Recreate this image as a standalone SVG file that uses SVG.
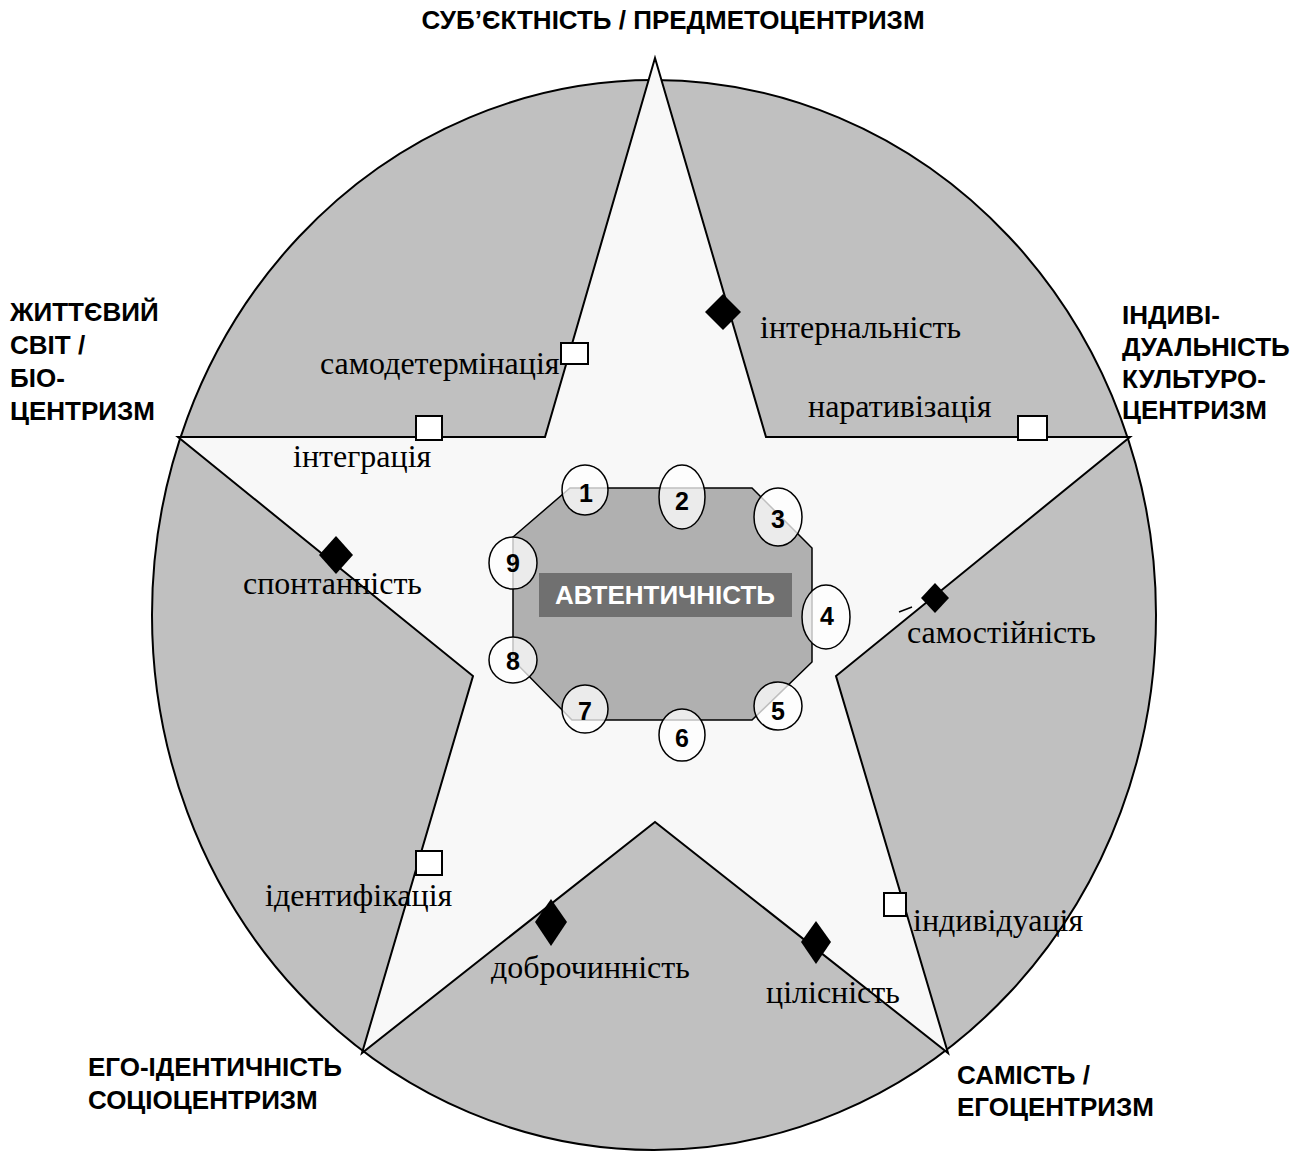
<svg xmlns="http://www.w3.org/2000/svg" width="1304" height="1157" viewBox="0 0 1304 1157">
<style>
.hdr{font-family:"Liberation Sans",Arial,sans-serif;font-weight:bold;font-size:26px;fill:#000}
.lbl{font-family:"Liberation Serif","Times New Roman",serif;font-size:32px;fill:#000}
.num{font-family:"Liberation Sans",Arial,sans-serif;font-weight:bold;font-size:25px;fill:#000;text-anchor:middle}
.circ{fill:#ffffff;fill-opacity:0.75;stroke:#000;stroke-width:1.5}
.sq{fill:#fff;stroke:#000;stroke-width:2}
.dm{fill:#000}
</style>
<rect width="1304" height="1157" fill="#fff"/>
<g id="background">
<ellipse cx="654" cy="615" rx="502" ry="535" fill="#c0c0c0" stroke="#000" stroke-width="2"/>
</g>
<g id="star">
<polygon points="655,58 766,437 1130,437 836,676 948,1053 655,822 362,1053 473,676 178,437 545,437" fill="#f8f8f8" stroke="#000" stroke-width="2" stroke-linejoin="miter"/>
</g>
<g id="core">
<polygon points="570,488 752,488 812,548 812,662 752,720 572,720 513,660 513,537" fill="#b0b0b0" stroke="#000" stroke-width="1.5"/>
<rect x="539" y="573" width="253" height="44" fill="#707070"/>
<text x="665" y="604" text-anchor="middle" font-family="Liberation Sans, Arial, sans-serif" font-weight="bold" font-size="26" fill="#fff">АВТЕНТИЧНІСТЬ</text>
</g>
<g id="circles">
<g id="c1"><ellipse class="circ" cx="585" cy="490" rx="23" ry="25"/><text class="num" x="586" y="502">1</text></g>
<g id="c2"><ellipse class="circ" cx="682" cy="497" rx="23" ry="32"/><text class="num" x="682" y="510">2</text></g>
<g id="c3"><ellipse class="circ" cx="778" cy="517" rx="24" ry="29"/><text class="num" x="778" y="528">3</text></g>
<g id="c4"><ellipse class="circ" cx="826" cy="617" rx="24" ry="32"/><text class="num" x="827" y="625">4</text></g>
<g id="c5"><ellipse class="circ" cx="778" cy="706" rx="24" ry="24"/><text class="num" x="778" y="720">5</text></g>
<g id="c6"><ellipse class="circ" cx="682" cy="735" rx="23" ry="26"/><text class="num" x="682" y="747">6</text></g>
<g id="c7"><ellipse class="circ" cx="585" cy="709" rx="23" ry="24"/><text class="num" x="585" y="720">7</text></g>
<g id="c8"><ellipse class="circ" cx="513" cy="660" rx="24" ry="23"/><text class="num" x="513" y="670">8</text></g>
<g id="c9"><ellipse class="circ" cx="513" cy="563" rx="24" ry="26"/><text class="num" x="513" y="572">9</text></g>
</g>
<g id="markers">
<polygon class="dm" points="723,294 741,312 723,330 705,312"/>
<rect class="sq" x="561" y="343" width="27" height="21"/>
<rect class="sq" x="416" y="416" width="26" height="24"/>
<rect class="sq" x="1018" y="416" width="29" height="24"/>
<polygon class="dm" points="336,536 353,555 336,574 319,555"/>
<polygon class="dm" points="935,583 949,598 935,613 921,598"/>
<line x1="899" y1="612" x2="912" y2="607" stroke="#000" stroke-width="1.5"/>
<rect class="sq" x="416" y="851" width="26" height="24"/>
<polygon class="dm" points="551,899 567,922 551,946 535,922"/>
<polygon class="dm" points="816,921 831,942 816,964 801,942"/>
<rect class="sq" x="884" y="893" width="22" height="23"/>
</g>
<g id="labels">
<text class="lbl" x="760" y="338">інтернальність</text>
<text class="lbl" x="320" y="374">самодетермінація</text>
<text class="lbl" x="808" y="417">наративізація</text>
<text class="lbl" x="293" y="467">інтеграція</text>
<text class="lbl" x="243" y="594">спонтанність</text>
<text class="lbl" x="907" y="643">самостійність</text>
<text class="lbl" x="265" y="906">ідентифікація</text>
<text class="lbl" x="491" y="978">доброчинність</text>
<text class="lbl" x="766" y="1003">цілісність</text>
<text class="lbl" x="913" y="931">індивідуація</text>
</g>
<g id="headers">
<text class="hdr" x="673" y="29" text-anchor="middle">СУБ’ЄКТНІСТЬ / ПРЕДМЕТОЦЕНТРИЗМ</text>
<text class="hdr" x="10" y="321">ЖИТТЄВИЙ</text>
<text class="hdr" x="10" y="354">СВІТ /</text>
<text class="hdr" x="10" y="387">БІО-</text>
<text class="hdr" x="10" y="420">ЦЕНТРИЗМ</text>
<text class="hdr" x="1122" y="324">ІНДИВІ-</text>
<text class="hdr" x="1122" y="356">ДУАЛЬНІСТЬ</text>
<text class="hdr" x="1122" y="388">КУЛЬТУРО-</text>
<text class="hdr" x="1122" y="419">ЦЕНТРИЗМ</text>
<text class="hdr" x="88" y="1076">ЕГО-ІДЕНТИЧНІСТЬ</text>
<text class="hdr" x="88" y="1109">СОЦІОЦЕНТРИЗМ</text>
<text class="hdr" x="957" y="1084">САМІСТЬ /</text>
<text class="hdr" x="957" y="1116">ЕГОЦЕНТРИЗМ</text>
</g>
</svg>
